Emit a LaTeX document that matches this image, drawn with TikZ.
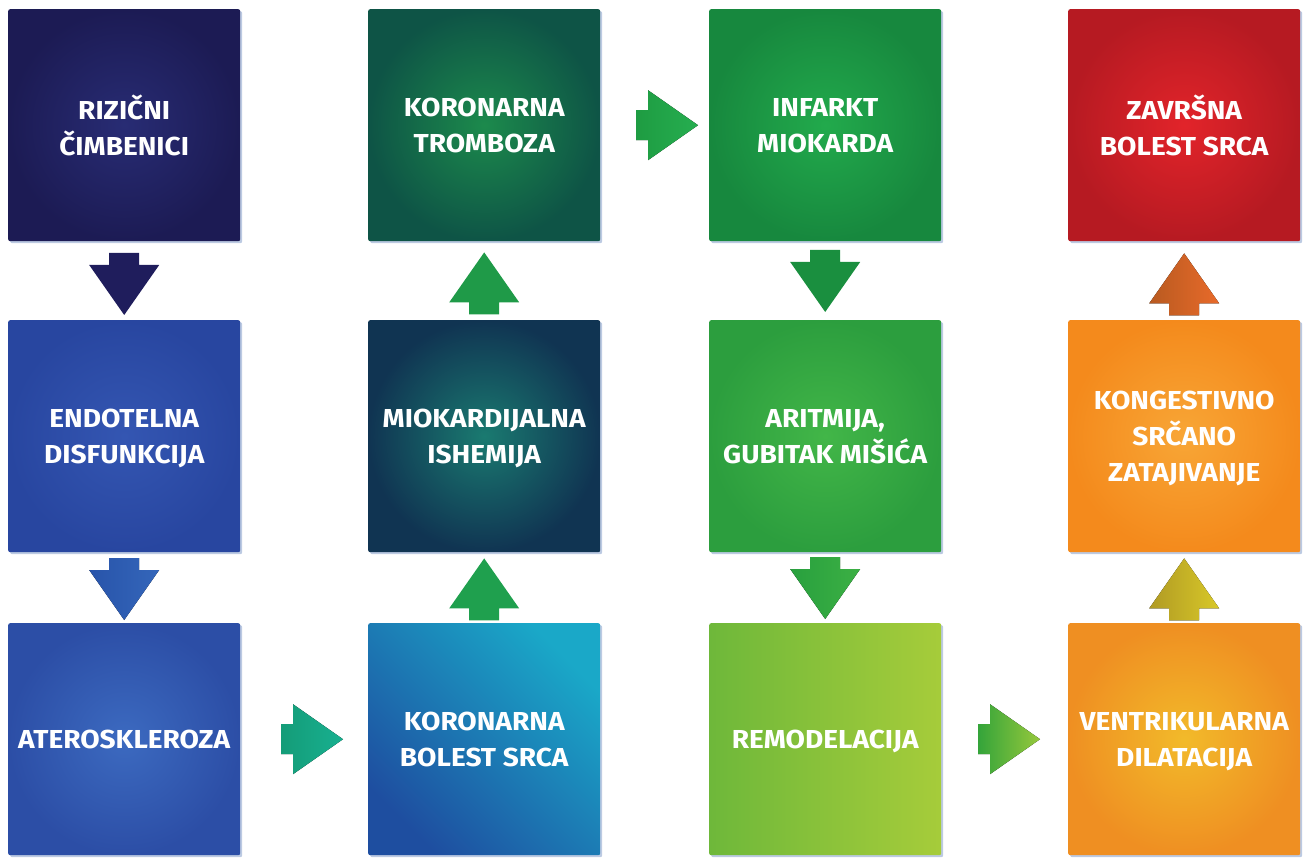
\documentclass[tikz,border=0pt]{standalone}
\usepackage{fontspec}
\setmainfont{Fira Sans}[BoldFeatures={FakeStretch=1.08}]
\usetikzlibrary{calc,shadows}
\definecolor{shadowc}{HTML}{9FB3D6}
\newcommand{\blockarr}[3]{%
  \fill[#1,shift={#2},rotate=#3] (0,0) -- (-50,-35) -- (-50,-15) -- (-62,-15) -- (-62,15) -- (-50,15) -- (-50,35) -- cycle;}
\tikzset{
  box/.style={minimum width=232pt, minimum height=232pt, inner sep=0pt,
    rounded corners=2pt, text=white, align=center, anchor=north west,
    font=\fontsize{26}{36}\selectfont\bfseries, text depth=-7pt,
    drop shadow={shadow xshift=2pt, shadow yshift=-2pt, fill=shadowc, opacity=0.7}},
}
\begin{document}
\begin{tikzpicture}[x=1pt,y=-1pt]
\useasboundingbox (0,0) rectangle (1303,858);
% column 1
\node[box, inner color={rgb,255:red,40;green,44;blue,116}, outer color={rgb,255:red,28;green,27;blue,84}] (rf) at (8,9) {RIZIČNI\\ČIMBENICI};
\node[box, inner color={rgb,255:red,52;green,86;blue,178}, outer color={rgb,255:red,40;green,70;blue,160}] (ed) at (8,320) {ENDOTELNA\\DISFUNKCIJA};
\node[box, inner color={rgb,255:red,60;green,106;blue,192}, outer color={rgb,255:red,44;green,78;blue,166}] (at) at (8,623) {ATEROSKLEROZA};
% column 2
\node[box, top color={rgb,255:red,26;green,168;blue,200}, bottom color={rgb,255:red,30;green,78;blue,160}, shading angle=-45] (kb) at (368,623) {KORONARNA\\BOLEST SRCA};
\node[box, inner color={rgb,255:red,26;green,122;blue,112}, outer color={rgb,255:red,16;green,52;blue,82}] (mi) at (368,320) {MIOKARDIJALNA\\ISHEMIJA};
\node[box, inner color={rgb,255:red,28;green,138;blue,76}, outer color={rgb,255:red,14;green,84;blue,70}] (kt) at (368,9) {KORONARNA\\TROMBOZA};
% column 3
\node[box, inner color={rgb,255:red,34;green,170;blue,76}, outer color={rgb,255:red,23;green,136;blue,62}] (im) at (709,9) {INFARKT\\MIOKARDA};
\node[box, inner color={rgb,255:red,66;green,182;blue,72}, outer color={rgb,255:red,44;green,158;blue,62}] (ar) at (709,320) {ARITMIJA,\\GUBITAK MIŠIĆA};
\node[box, left color={rgb,255:red,110;green,184;blue,58}, right color={rgb,255:red,166;green,204;blue,58}] (re) at (709,623) {REMODELACIJA};
% column 4
\node[box, inner color={rgb,255:red,242;green,186;blue,42}, outer color={rgb,255:red,239;green,143;blue,34}] (vd) at (1068,623) {VENTRIKULARNA\\DILATACIJA};
\node[box, inner color={rgb,255:red,248;green,166;blue,54}, outer color={rgb,255:red,244;green,138;blue,28}] (ks) at (1068,320) {KONGESTIVNO\\SRČANO\\ZATAJIVANJE};
\node[box, inner color={rgb,255:red,226;green,36;blue,42}, outer color={rgb,255:red,182;green,26;blue,34}] (zb) at (1068,9) {ZAVRŠNA\\BOLEST SRCA};
% arrows
\blockarr{fill={rgb,255:red,31;green,29;blue,92}}{($(ed.north)+(0,-5)$)}{-90}
\blockarr{left color={rgb,255:red,40;green,84;blue,170}, right color={rgb,255:red,52;green,102;blue,186}}{($(at.north)+(0,-3)$)}{-90}
\blockarr{left color={rgb,255:red,20;green,156;blue,120}, right color={rgb,255:red,24;green,176;blue,144}}{($(kb.west)+(-25,0)$)}{0}
\blockarr{fill={rgb,255:red,31;green,160;blue,78}}{($(mi.south)+(0,6)$)}{90}
\blockarr{fill={rgb,255:red,31;green,154;blue,72}}{($(kt.south)+(0,11)$)}{90}
\blockarr{left color={rgb,255:red,30;green,156;blue,66}, right color={rgb,255:red,38;green,174;blue,80}}{($(im.west)+(-11,0)$)}{0}
\blockarr{fill={rgb,255:red,26;green,143;blue,63}}{($(ar.north)+(0,-8)$)}{-90}
\blockarr{left color={rgb,255:red,40;green,160;blue,62}, right color={rgb,255:red,60;green,176;blue,68}}{($(re.north)+(0,-4)$)}{-90}
\blockarr{left color={rgb,255:red,52;green,164;blue,58}, right color={rgb,255:red,150;green,200;blue,60}}{($(vd.west)+(-28,0)$)}{0}
\blockarr{left color={rgb,255:red,176;green,154;blue,36}, right color={rgb,255:red,216;green,200;blue,40}}{($(ks.south)+(0,6)$)}{90}
\blockarr{left color={rgb,255:red,184;green,90;blue,32}, right color={rgb,255:red,232;green,106;blue,42}}{($(zb.south)+(0,12)$)}{90}
\end{tikzpicture}
\end{document}
